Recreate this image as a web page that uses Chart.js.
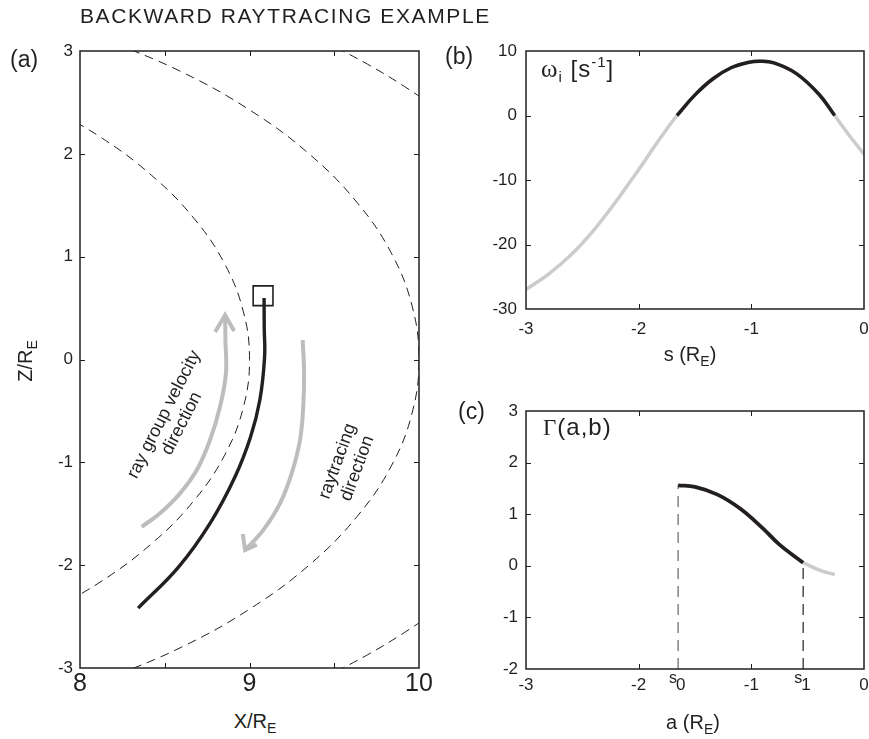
<!DOCTYPE html>
<html>
<head>
<script src="https://cdn.jsdelivr.net/npm/chart.js"></script>
<style>
    body { margin: 0; background: #fff; font-family: "Liberation Sans", Arial, sans-serif; }
    #fig { position: relative; width: 869px; height: 739px; overflow: hidden; background: #fff; }
    canvas { position: absolute; }
    .lbl { position: absolute; white-space: nowrap; line-height: 1; color: #231f20; }
    .sub { font-size: 14px; position: relative; top: 5px; }
    .sup { font-size: 15px; position: relative; top: -10px; }
    .serif { font-family: "Liberation Serif", "Times New Roman", serif; }
</style>
</head>
<body>
<div id="fig">
    <canvas id="chartA" width="440" height="710" style="left:0;top:0"></canvas>
    <canvas id="chartB" width="429" height="380" style="left:440px;top:0"></canvas>
    <canvas id="chartC" width="429" height="359" style="left:440px;top:380px"></canvas>

    <div class="lbl" style="left:80px;top:5px;font-size:21px;letter-spacing:1.6px">BACKWARD RAYTRACING EXAMPLE</div>
    <div class="lbl" style="left:10px;top:48px;font-size:23px">(a)</div>
    <div class="lbl" style="left:445px;top:45px;font-size:23px">(b)</div>
    <div class="lbl" style="left:458px;top:400px;font-size:23px">(c)</div>

    <div class="lbl" style="left:205px;width:100px;text-align:center;top:711px;font-size:20px">X/R<span class="sub">E</span></div>
    <div class="lbl" style="left:25px;top:361px;font-size:20px;transform:translate(-50%,-50%) rotate(-90deg)">Z/R<span class="sub">E</span></div>
    <div class="lbl" style="left:640px;width:100px;text-align:center;top:344px;font-size:20px">s (R<span class="sub">E</span>)</div>
    <div class="lbl" style="left:643px;width:100px;text-align:center;top:712px;font-size:20px">a (R<span class="sub">E</span>)</div>

    <div class="lbl" style="left:541px;top:56px;font-size:24px;letter-spacing:1px"><span class="serif" style="font-size:25px">&omega;</span><span class="sub" style="font-size:15px;top:5px">i</span> [s<span class="sup">-1</span>]</div>
    <div class="lbl" style="left:543px;top:415px;font-size:24px;letter-spacing:1px"><span class="serif" style="font-size:23px">&Gamma;</span>(a,b)</div>
</div>
<script>
    // ---- (a) ray path in the X-Z plane (units of Earth radii) ----
    const fieldL9X  = [7.742, 8.111, 8.423, 8.672, 8.853, 8.963, 9.000, 8.963, 8.853, 8.672, 8.423, 8.111, 7.742];
    const fieldL9Z  = [2.516, 2.173, 1.790, 1.373, 0.931, 0.470, 0.000, -0.470, -0.931, -1.373, -1.790, -2.173, -2.516];
    const fieldL10X = [8.137, 8.602, 9.012, 9.359, 9.635, 9.837, 9.959, 10.000, 9.959, 9.837, 9.635, 9.359, 9.012, 8.602, 8.137];
    const fieldL10Z = [3.123, 2.795, 2.415, 1.989, 1.526, 1.034, 0.522, 0.000, -0.522, -1.034, -1.526, -1.989, -2.415, -2.795, -3.123];
    const fieldL11X = [10.295, 10.113, 9.913, 9.696, 9.463];
    const fieldL11Z = [2.188, 2.428, 2.656, 2.872, 3.075];
    const fieldL11LowX = [10.295, 10.113, 9.913, 9.696, 9.463];
    const fieldL11LowZ = [-2.188, -2.428, -2.656, -2.872, -3.075];
    const rayX = [9.086, 9.087, 9.089, 9.061, 9.006, 8.914, 8.768, 8.581, 8.343];
    const rayZ = [0.598, 0.306, 0.024, -0.394, -0.754, -1.143, -1.591, -2.019, -2.418];
    const startX = [9.08];
    const startZ = [0.62];
    const groupArrowX = [8.364, 8.472, 8.590, 8.689, 8.767, 8.826, 8.861, 8.858, 8.856];
    const groupArrowZ = [-1.627, -1.496, -1.302, -1.075, -0.783, -0.459, -0.134, 0.190, 0.433];
    const groupHeadX  = [8.797, 8.856, 8.909];
    const groupHeadZ  = [0.268, 0.433, 0.277];
    const traceArrowX = [9.314, 9.322, 9.317, 9.298, 9.249, 9.180, 9.081, 8.974];
    const traceArrowZ = [0.190, -0.134, -0.459, -0.783, -1.107, -1.399, -1.659, -1.853];
    const traceHeadX  = [8.960, 8.974, 9.043];
    const traceHeadZ  = [-1.697, -1.853, -1.800];

    // ---- (b) growth rate along the ray ----
    const sPath  = [-3.0, -2.8, -2.6, -2.4, -2.2, -2.0, -1.8, -1.66, -1.5, -1.34, -1.18, -1.02, -0.92, -0.8, -0.6, -0.4, -0.26, -0.13, 0.0];
    const omegaI = [-27.0, -24.6, -21.6, -17.8, -13.3, -8.4, -3.3, 0.0, 3.2, 5.7, 7.4, 8.25, 8.4, 8.15, 6.5, 3.3, 0.0, -3.1, -6.0];

    // ---- (c) integrated gain ----
    const aPath = [-1.65, -1.5, -1.3, -1.1, -0.9, -0.75, -0.54, -0.39, -0.26];
    const gamma = [1.56, 1.53, 1.38, 1.11, 0.73, 0.41, 0.06, -0.09, -0.17];
    const sBounds = [-1.65, -0.54];
    const sBoundNames = ['0', '1'];

    const ink = '#231f20';
    const pts = (xs, ys) => xs.map((x, i) => ({ x: x, y: ys[i] }));

    function scale(min, max, step, size, fontSize, pad, horizontal, fmt) {
        return {
            type: 'linear', min: min, max: max,
            grid: { display: false, drawTicks: false },
            border: { display: false },
            ticks: {
                stepSize: step, autoSkip: false, maxRotation: 0, minRotation: 0,
                color: ink, padding: pad,
                font: { family: 'Liberation Sans', size: fontSize },
                callback: fmt || (v => String(v))
            },
            afterFit(s) {
                if (horizontal) { s.height = size; s.paddingLeft = 0; s.paddingRight = 0; }
                else { s.width = size; s.paddingTop = 0; s.paddingBottom = 0; }
            }
        };
    }

    // matlab style box with inward ticks on all four sides
    const framePlugin = {
        id: 'frame',
        afterDraw(chart) {
            const { ctx, chartArea: a, scales } = chart;
            const tl = 5;
            ctx.save();
            ctx.strokeStyle = ink;
            ctx.lineWidth = 1;
            ctx.beginPath();
            scales.x.ticks.forEach(t => {
                const p = Math.round(scales.x.getPixelForValue(t.value)) + 0.5;
                if (p < a.left + 2 || p > a.right - 2) return;
                ctx.moveTo(p, a.bottom); ctx.lineTo(p, a.bottom - tl);
                ctx.moveTo(p, a.top); ctx.lineTo(p, a.top + tl);
            });
            scales.y.ticks.forEach(t => {
                const p = Math.round(scales.y.getPixelForValue(t.value)) + 0.5;
                if (p < a.top + 2 || p > a.bottom - 2) return;
                ctx.moveTo(a.left, p); ctx.lineTo(a.left + tl, p);
                ctx.moveTo(a.right, p); ctx.lineTo(a.right - tl, p);
            });
            ctx.stroke();
            ctx.lineWidth = 1.5;
            ctx.strokeRect(a.left, a.top, a.width, a.height);
            ctx.restore();
        }
    };

    // rotated notes placed in data coordinates
    const notesPlugin = {
        id: 'notes',
        afterDatasetsDraw(chart, args, opts) {
            const { ctx, scales: { x, y } } = chart;
            ctx.save();
            ctx.fillStyle = ink;
            ctx.font = '18px "Liberation Sans"';
            ctx.textAlign = 'center';
            ctx.textBaseline = 'alphabetic';
            opts.items.forEach(n => {
                ctx.save();
                ctx.translate(x.getPixelForValue(n.x), y.getPixelForValue(n.y));
                ctx.rotate(n.angle * Math.PI / 180);
                const off = (n.lines.length - 1) * n.gap / 2;
                n.lines.forEach((s, i) => ctx.fillText(s, 0, i * n.gap - off + 6));
                ctx.restore();
            });
            ctx.restore();
        }
    };

    // s0 / s1 tick labels in (c)
    const boundLabels = {
        id: 'bounds',
        afterDraw(chart) {
            const { ctx, chartArea: a, scales: { x } } = chart;
            ctx.save();
            ctx.fillStyle = ink;
            ctx.textBaseline = 'middle';
            sBounds.forEach((v, i) => {
                const p = x.getPixelForValue(v);
                ctx.font = '16px "Liberation Sans"';
                ctx.textAlign = 'right';
                ctx.fillText('s', p - 1, a.bottom + 10);
                ctx.font = '17px "Liberation Sans"';
                ctx.textAlign = 'left';
                ctx.fillText(sBoundNames[i], p - 2, a.bottom + 16);
            });
            ctx.restore();
        }
    };

    const line = (data, color, width, extra) => Object.assign({
        data: data, showLine: true, borderColor: color, borderWidth: width,
        pointRadius: 0, tension: 0.4, fill: false
    }, extra || {});

    const common = {
        responsive: false,
        animation: false,
        events: [],
        plugins: { legend: { display: false }, tooltip: { enabled: false } }
    };

    // ---------- panel (a) ----------
    new Chart(document.getElementById('chartA'), {
        type: 'scatter',
        data: {
            datasets: [
                { data: pts(startX, startZ), showLine: false, pointStyle: 'rect', pointRadius: 14,
                  borderColor: ink, borderWidth: 1.6, backgroundColor: 'rgba(0,0,0,0)' },
                line(pts(rayX, rayZ), ink, 3.4),
                line(pts(groupArrowX, groupArrowZ), '#bdbdbd', 4),
                line(pts(groupHeadX, groupHeadZ), '#bdbdbd', 4, { tension: 0 }),
                line(pts(traceArrowX, traceArrowZ), '#bdbdbd', 4),
                line(pts(traceHeadX, traceHeadZ), '#bdbdbd', 4, { tension: 0 }),
                line(pts(fieldL9X, fieldL9Z), ink, 1, { borderDash: [9, 6] }),
                line(pts(fieldL10X, fieldL10Z), ink, 1, { borderDash: [9, 6] }),
                line(pts(fieldL11X, fieldL11Z), ink, 1, { borderDash: [9, 6] }),
                line(pts(fieldL11LowX, fieldL11LowZ), ink, 1, { borderDash: [9, 6] })
            ]
        },
        options: Object.assign({}, common, {
            layout: { padding: { top: 51, left: 0, right: 21, bottom: 0 } },
            scales: {
                x: scale(8, 10, 0.5, 42, 25, 1, true, v => Number.isInteger(v) ? String(v) : ''),
                y: scale(-3, 3, 1, 80, 17, 7, false)
            },
            plugins: Object.assign({}, common.plugins, {
                notes: { items: [
                    { x: 8.543, y: -0.574, angle: -63, gap: 20, lines: ['ray group velocity', 'direction'] },
                    { x: 9.572, y: -1.021, angle: -70, gap: 21, lines: ['raytracing', 'direction'] }
                ] }
            })
        }),
        plugins: [framePlugin, notesPlugin]
    });

    // ---------- panel (b) ----------
    const bAll = pts(sPath, omegaI);
    new Chart(document.getElementById('chartB'), {
        type: 'scatter',
        data: {
            datasets: [
                line(bAll.filter(p => p.y >= 0), ink, 3.5),
                line(bAll, '#cccccc', 3.5)
            ]
        },
        options: Object.assign({}, common, {
            layout: { padding: { top: 51, left: 0, right: 5, bottom: 0 } },
            scales: {
                x: scale(-3, 0, 1, 71, 17, 10, true),
                y: scale(-30, 10, 10, 86, 17, 9, false)
            }
        }),
        plugins: [framePlugin]
    });

    // ---------- panel (c) ----------
    const cAll = pts(aPath, gamma);
    const g0 = gamma[aPath.indexOf(sBounds[0])];
    const g1 = gamma[aPath.indexOf(sBounds[1])];
    new Chart(document.getElementById('chartC'), {
        type: 'scatter',
        data: {
            datasets: [
                line(cAll.filter(p => p.x <= sBounds[1]), ink, 3.8),
                line(cAll.filter(p => p.x >= sBounds[1]), '#cccccc', 3.5),
                line([{ x: sBounds[0], y: -2 }, { x: sBounds[0], y: g0 }], '#666666', 1.2, { tension: 0, borderDash: [11, 7] }),
                line([{ x: sBounds[1], y: -2 }, { x: sBounds[1], y: g1 }], ink, 1.2, { tension: 0, borderDash: [11, 7] })
            ]
        },
        options: Object.assign({}, common, {
            layout: { padding: { top: 31, left: 0, right: 5, bottom: 0 } },
            scales: {
                x: scale(-3, 0, 1, 70, 17, 6, true),
                y: scale(-2, 3, 1, 86, 17, 8, false)
            }
        }),
        plugins: [framePlugin, boundLabels]
    });
</script>
</body>
</html>
